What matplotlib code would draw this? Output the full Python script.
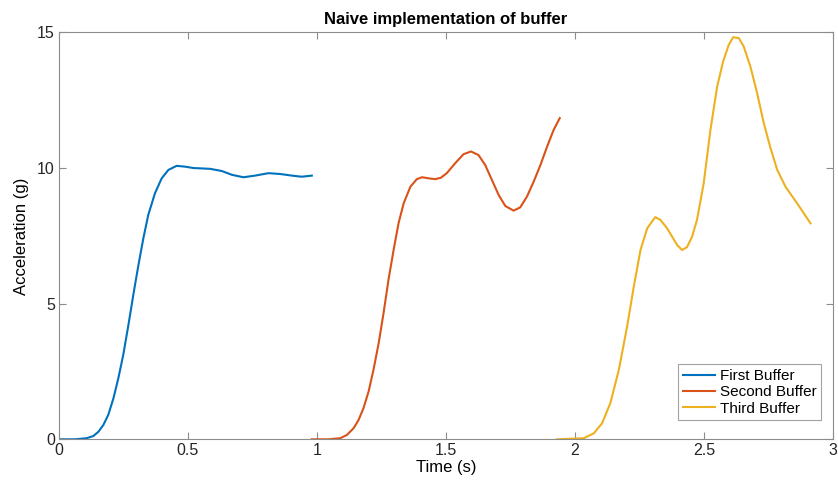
import numpy as np
import matplotlib.pyplot as plt

plt.rcParams['font.family'] = ['Liberation Sans', 'DejaVu Sans']

# Buffer data (time in s, acceleration in g)
t_first = [0.0, 0.062, 0.107, 0.133, 0.153, 0.172, 0.191, 0.211, 0.230, 0.249,
           0.269, 0.288, 0.308, 0.327, 0.346, 0.372, 0.398, 0.424, 0.456, 0.489,
           0.521, 0.586, 0.631, 0.670, 0.715, 0.760, 0.812, 0.857, 0.903, 0.941,
           0.980]
a_first = [0.0, 0.0, 0.04, 0.12, 0.28, 0.53, 0.90, 1.51, 2.25, 3.11,
           4.21, 5.32, 6.43, 7.41, 8.27, 9.07, 9.62, 9.93, 10.08, 10.05,
           10.0, 9.97, 9.89, 9.75, 9.66, 9.72, 9.81, 9.78, 9.72, 9.68,
           9.72]

t_second = [0.980, 1.045, 1.090, 1.116, 1.142, 1.161, 1.180, 1.200, 1.219, 1.239,
            1.258, 1.277, 1.297, 1.316, 1.336, 1.362, 1.387, 1.407, 1.433, 1.458,
            1.480, 1.503, 1.536, 1.568, 1.597, 1.626, 1.652, 1.678, 1.704, 1.730,
            1.762, 1.788, 1.814, 1.840, 1.866, 1.892, 1.917, 1.941]
a_second = [0.0, 0.0, 0.04, 0.16, 0.41, 0.71, 1.14, 1.76, 2.56, 3.54,
            4.65, 5.87, 6.98, 7.96, 8.70, 9.31, 9.59, 9.66, 9.62, 9.59,
            9.64, 9.81, 10.18, 10.51, 10.61, 10.48, 10.11, 9.56, 9.01, 8.60,
            8.43, 8.55, 8.95, 9.50, 10.11, 10.79, 11.40, 11.84]

t_third = [1.93, 2.034, 2.073, 2.105, 2.137, 2.170, 2.202, 2.228, 2.254, 2.280,
           2.311, 2.331, 2.357, 2.396, 2.415, 2.434, 2.454, 2.473, 2.499, 2.525,
           2.551, 2.574, 2.596, 2.613, 2.635, 2.654, 2.680, 2.706, 2.732, 2.758,
           2.784, 2.816, 2.861, 2.913]
a_third = [0.0, 0.04, 0.22, 0.59, 1.33, 2.56, 4.15, 5.63, 6.98, 7.78,
           8.19, 8.09, 7.78, 7.16, 6.98, 7.08, 7.47, 8.09, 9.44, 11.40,
           13.0, 13.92, 14.54, 14.82, 14.79, 14.48, 13.74, 12.76, 11.65, 10.73,
           9.93, 9.31, 8.70, 7.96]

labels = ['First Buffer', 'Second Buffer', 'Third Buffer']
colors = ['#0072BD', '#D95319', '#EDB120']

fig = plt.figure(figsize=(8.38, 4.82), dpi=100)
ax = fig.add_axes([0.0704, 0.0886, 0.9236, 0.8442])

for t, a, lab, c in zip([t_first, t_second, t_third],
                        [a_first, a_second, a_third], labels, colors):
    ax.plot(t, a, color=c, lw=1.5, label=lab, solid_joinstyle='round')

ax.set_xlim(0, 3)
ax.set_ylim(0, 15)
ax.set_xticks([0, 0.5, 1, 1.5, 2, 2.5, 3])
ax.set_xticklabels(['0', '0.5', '1', '1.5', '2', '2.5', '3'])
ax.set_yticks([0, 5, 10, 15])

# MATLAB-like box with inward ticks on all sides
for s in ax.spines.values():
    s.set_color('#8c8c8c')
    s.set_linewidth(0.8)
ax.tick_params(direction='in', top=True, right=True, length=5,
               color='#8c8c8c', labelsize=11.5, labelcolor='#262626', pad=3)

ax.set_title('Naive implementation of buffer', fontsize=12, fontweight='bold', pad=6)
ax.set_xlabel('Time (s)', fontsize=12, labelpad=1)
ax.set_ylabel('Acceleration (g)', fontsize=12, labelpad=6)

leg = ax.legend(loc='lower right', bbox_to_anchor=(0.9845, 0.047),
                fontsize=11, frameon=True, fancybox=False,
                handlelength=2.1, handletextpad=0.3, borderpad=0.3,
                labelspacing=0.15, borderaxespad=0)
leg.get_frame().set_edgecolor('#8c8c8c')
leg.get_frame().set_linewidth(0.8)

fig.savefig('out.png', dpi=100)
